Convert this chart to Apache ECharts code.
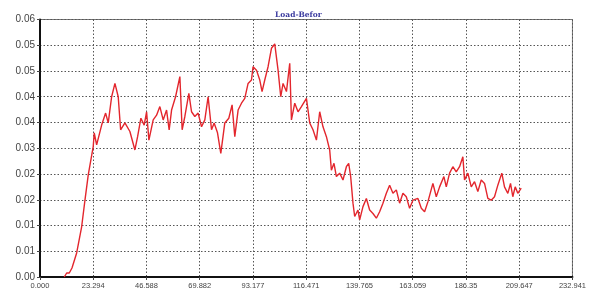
<!DOCTYPE html>
<html>
<head>
<meta charset="utf-8">
<script src="https://cdn.jsdelivr.net/npm/echarts@6/dist/echarts.min.js"></script>
<style>
  html, body { margin: 0; padding: 0; background: #fff; }
  #main { width: 589px; height: 299px; }
</style>
</head>
<body>
<div id="main"></div>
<script>
// 读出的曲线数据 (x, y)
var xs = [10.62, 11.67, 12.81, 13.99, 16.04, 18.22, 19.67, 21.11, 23.03, 23.29, 23.73, 24.78, 26.97, 28.71, 29.85,
  31.34, 32.78, 34.22, 35.27, 37.15, 39.33, 41.52, 42.70, 44.14, 45.58, 46.63, 47.64, 49.52, 51.00, 52.44,
  53.89, 55.37, 56.51, 57.56, 59.31, 61.19, 62.19, 63.37, 65.12, 66.30, 67.74, 69.18, 70.67, 72.11, 73.55,
  75.04, 76.18, 77.66, 79.10, 80.85, 82.60, 84.04, 85.22, 86.67, 88.15, 89.59, 91.04, 92.52, 93.22, 94.71,
  96.15, 97.15, 98.33, 99.78, 101.26, 102.70, 104.15, 105.33, 106.33, 107.82, 109.26, 110.00, 111.45, 112.89, 114.37,
  116.56, 118.00, 119.44, 120.93, 122.37, 123.81, 125.30, 126.74, 127.48, 128.62, 129.67, 131.11, 132.55, 134.04, 135.05,
  135.92, 136.93, 137.67, 139.11, 139.85, 141.30, 142.78, 144.22, 145.67, 147.15, 148.59, 150.04, 151.52, 152.96, 154.41,
  155.89, 157.33, 158.78, 160.26, 161.70, 163.15, 165.33, 166.82, 168.26, 169.70, 171.89, 173.37, 174.82, 176.70, 177.74,
  179.19, 180.63, 182.11, 183.56, 185.00, 185.74, 187.18, 188.67, 190.11, 191.55, 193.04, 194.48, 195.93, 197.41, 198.85,
  200.30, 202.04, 203.22, 204.67, 205.85, 206.85, 207.90, 209.04, 210.52];
var ys = [0, 0.00093, 0.00093, 0.0021, 0.0056, 0.0117, 0.0179, 0.0238, 0.0296, 0.0304, 0.0336, 0.0308, 0.0354, 0.0382, 0.0359,
  0.0420, 0.0451, 0.0420, 0.0343, 0.0359, 0.0339, 0.0296, 0.0327, 0.0370, 0.0354, 0.0385, 0.0319, 0.0366, 0.0377, 0.0397,
  0.0366, 0.0389, 0.0343, 0.0389, 0.0420, 0.0467, 0.0343, 0.0374, 0.0428, 0.0385, 0.0374, 0.0382, 0.0350, 0.0366, 0.0420,
  0.0343, 0.0359, 0.0336, 0.0288, 0.0359, 0.0370, 0.0401, 0.0327, 0.0389, 0.0405, 0.0416, 0.0451, 0.0459, 0.0490, 0.0482,
  0.0459, 0.0432, 0.0459, 0.0490, 0.0533, 0.0543, 0.0482, 0.0420, 0.0451, 0.0432, 0.0498, 0.0366, 0.0405, 0.0385, 0.0397,
  0.0416, 0.0359, 0.0343, 0.0319, 0.0385, 0.0350, 0.0327, 0.0296, 0.0249, 0.0265, 0.0234, 0.0242, 0.0226, 0.0257, 0.0265,
  0.0234, 0.0172, 0.0141, 0.0156, 0.0133, 0.0164, 0.0183, 0.0156, 0.0148, 0.0137, 0.0152, 0.0172, 0.0195, 0.0214, 0.0195,
  0.0203, 0.0172, 0.0195, 0.0187, 0.0160, 0.0179, 0.0183, 0.0160, 0.0152, 0.0175, 0.0218, 0.0187, 0.0210, 0.0234, 0.0210,
  0.0242, 0.0257, 0.0245, 0.0257, 0.0280, 0.0226, 0.0242, 0.0210, 0.0222, 0.0199, 0.0226, 0.0218, 0.0183, 0.0179, 0.0187,
  0.0214, 0.0242, 0.0210, 0.0195, 0.0218, 0.0187, 0.0210, 0.0195, 0.0207];
// 刻度标签
var xLabels = ['0.000', '23.294', '46.588', '69.882', '93.177', '116.471', '139.765', '163.059', '186.35', '209.647', '232.941'];
var yLabels = ['0.00', '0.01', '0.01', '0.02', '0.02', '0.03', '0.04', '0.04', '0.05', '0.05', '0.06'];
var xStep = 23.2941;
var yStep = 0.006;

var points = xs.map(function (x, i) { return [x, ys[i]]; });

var chart = echarts.init(document.getElementById('main'));
var option = {
    animation: false,
    backgroundColor: '#fff',
    title: {
        text: 'Load-Befor',
        left: 270,
        top: 6,
        textStyle: { color: '#3c3ca0', fontSize: 7.5, fontWeight: 'bold', fontFamily: 'DejaVu Serif' }
    },
    grid: {
        left: 40, right: 16, top: 19.5, bottom: 22,
        show: true, borderColor: '#777', borderWidth: 1
    },
    xAxis: {
        type: 'value',
        min: 0, max: xStep * 10, interval: xStep,
        axisLine: { lineStyle: { color: '#111', width: 2 } },
        axisTick: { show: true, length: 3, lineStyle: { color: '#444' } },
        axisLabel: {
            color: '#444', fontSize: 7.5, fontFamily: 'Liberation Sans', margin: 5,
            formatter: function (v) { return xLabels[Math.round(v / xStep)]; }
        },
        splitLine: { show: true, lineStyle: { color: '#555', type: [1.5, 2], width: 1 } }
    },
    yAxis: {
        type: 'value',
        min: 0, max: 0.06, interval: yStep,
        axisLine: { show: true, lineStyle: { color: '#111', width: 2 } },
        axisTick: { show: true, length: 3, lineStyle: { color: '#444' } },
        axisLabel: {
            color: '#444', fontSize: 10, fontFamily: 'Liberation Sans', margin: 5,
            formatter: function (v) { return yLabels[Math.round(v / yStep)]; }
        },
        splitLine: { show: true, lineStyle: { color: '#555', type: [1.5, 2], width: 1 } }
    },
    series: [{
        type: 'line',
        data: points,
        symbol: 'none',
        lineStyle: { color: '#e3262d', width: 1.4 }
    }]
};
chart.setOption(option);
</script>
</body>
</html>
